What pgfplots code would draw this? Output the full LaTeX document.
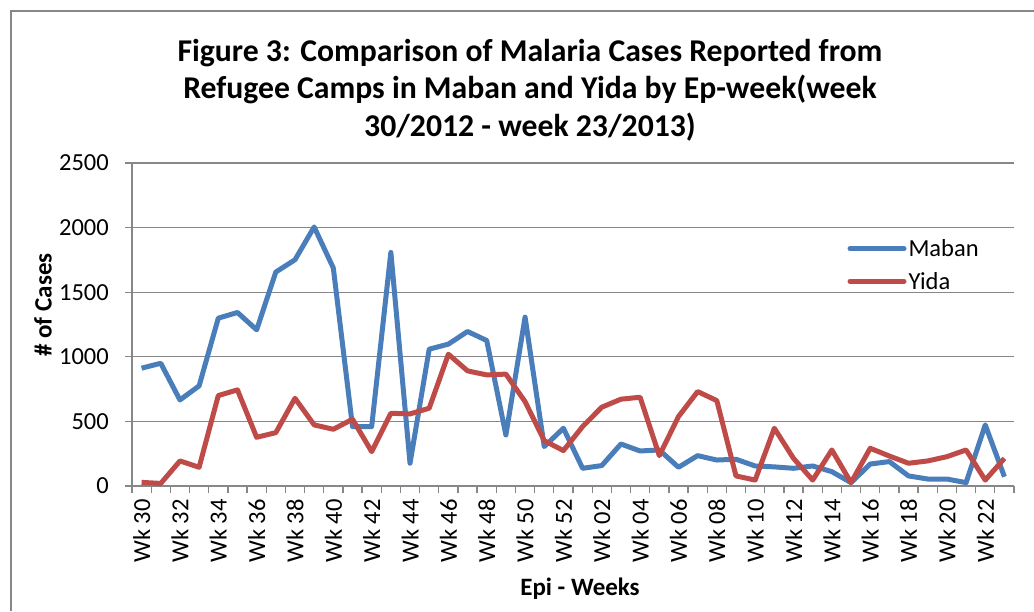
\documentclass[border=0pt]{standalone}
\usepackage{pgfplots}
\pgfplotsset{compat=1.18}
\usepackage{fontspec}
\setmainfont{Carlito}
\definecolor{mabanblue}{HTML}{4A7EBB}
\definecolor{yidared}{HTML}{BE4B48}
\definecolor{gridgray}{HTML}{878787}
\newcommand{\tickfont}{\fontsize{24.5}{29}\selectfont}
\begin{document}
\begin{tikzpicture}[x=1pt,y=1pt]
\path[use as bounding box] (0,0) rectangle (1034,611);
\draw[gridgray, line width=1.3pt] (11,0) -- (11,600) -- (1040,600);
\begin{axis}[
  at={(132pt,125pt)}, anchor=south west,
  width=882pt, height=323pt, scale only axis,
  xmin=-0.5, xmax=45.5, ymin=0, ymax=2500,
  axis x line*=bottom, axis y line*=left,
  axis line style={gridgray, line width=1.3pt},
  xtick={0,2,...,44},
  xticklabels={Wk 30,Wk 32,Wk 34,Wk 36,Wk 38,Wk 40,Wk 42,Wk 44,Wk 46,Wk 48,Wk 50,Wk 52,Wk 02,Wk 04,Wk 06,Wk 08,Wk 10,Wk 12,Wk 14,Wk 16,Wk 18,Wk 20,Wk 22},
  minor xtick={-0.5,0.5,...,45.5},
  major x tick style={draw=none},
  minor x tick style={gridgray, line width=1.3pt},
  minor tick length=7pt,
  ytick={0,500,...,2500},
  y tick style={gridgray, line width=1.3pt},
  major tick length=7pt,
  tick align=outside,
  ymajorgrids=true,
  major grid style={gridgray, line width=1.3pt},
  xticklabel style={rotate=90, anchor=east, font=\tickfont, inner sep=0pt, xshift=-6pt},
  yticklabel style={anchor=east, font=\tickfont, inner sep=0pt, xshift=-16pt},
  /pgf/number format/1000 sep={},
  /pgf/number format/assume math mode=true,
  legend style={draw=none, fill=none, at={(axis description cs:0.811,0.77)}, anchor=north west, font=\tickfont, inner sep=0pt, row sep=10pt},
  legend cell align=left,
  legend image code/.code={\draw[#1, line cap=round] (0pt,0pt) -- (54pt,0pt);},
  line join=round,
  clip=false,
]
\addplot[mabanblue, line width=5pt] coordinates {
(0,912) (1,950) (2,666) (3,775) (4,1299) (5,1343) (6,1209) (7,1656) (8,1751) (9,2005)
(10,1687) (11,460) (12,460) (13,1808) (14,176) (15,1059) (16,1098) (17,1196) (18,1126) (19,395)
(20,1307) (21,305) (22,447) (23,137) (24,158) (25,325) (26,271) (27,279) (28,145) (29,235)
(30,201) (31,207) (32,155) (33,148) (34,137) (35,155) (36,111) (37,26) (38,170) (39,189)
(40,78) (41,54) (42,54) (43,26) (44,473) (45,72)};
\addlegendentry{Maban}
\addplot[yidared, line width=5pt] coordinates {
(0,28) (1,20) (2,194) (3,145) (4,700) (5,744) (6,377) (7,413) (8,679) (9,473)
(10,439) (11,517) (12,266) (13,563) (14,558) (15,602) (16,1020) (17,891) (18,860) (19,866)
(20,653) (21,351) (22,274) (23,460) (24,610) (25,672) (26,687) (27,235) (28,537) (29,731)
(30,661) (31,78) (32,46) (33,447) (34,214) (35,46) (36,279) (37,26) (38,292) (39,232)
(40,176) (41,194) (42,227) (43,279) (44,46) (45,214)};
\addlegendentry{Yida}
\end{axis}
\node[font=\fontsize{31.7}{37.5}\selectfont\bfseries, align=center] at (530,521)
  {Figure 3: Comparison of Malaria Cases Reported from\\Refugee Camps in Maban and Yida by Ep-week(week\\30/2012 - week 23/2013)};
\node[font=\fontsize{25}{29}\selectfont\bfseries, rotate=90] at (43,306) {\# of Cases};
\node[font=\fontsize{25}{29}\selectfont\bfseries] at (580,22) {Epi - Weeks};
\end{tikzpicture}
\end{document}
